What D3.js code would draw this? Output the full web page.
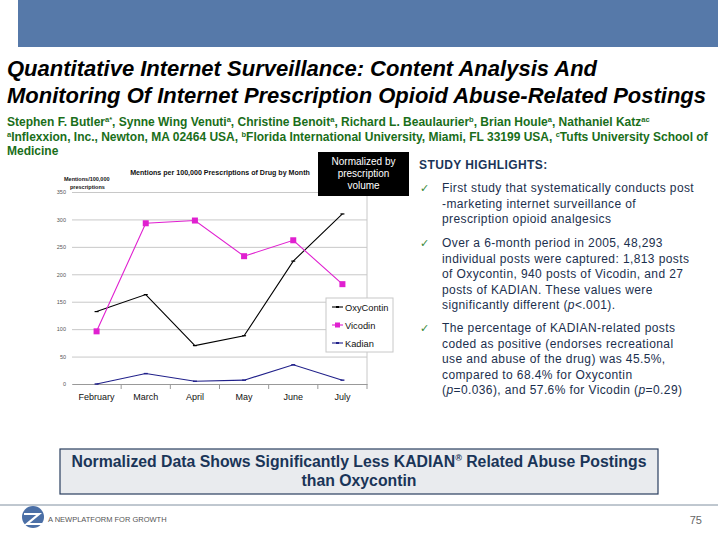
<!DOCTYPE html>
<html>
<head>
<meta charset="utf-8">
<script src="https://cdn.jsdelivr.net/npm/d3@7"></script>
<style>
html,body{margin:0;padding:0;background:#fff;}
svg{display:block;}
</style>
</head>
<body>
<svg id="c" width="720" height="540"></svg>
<script>
// ---- data ----
const months = ["February","March","April","May","June","July"];
const oxycontin = [132,163,70,88,224,310];
const vicodin = [96,293,298,233,262,182];
const kadian = [0,19,5,7,35,7];
const yTicks = [0,50,100,150,200,250,300,350];
const seriesNames = ["OxyContin","Vicodin","Kadian"];
const seriesColors = ["#000000","#e020d0","#20208a"];

const titleLines = ["Quantitative Internet Surveillance: Content Analysis And",
  "Monitoring Of Internet Prescription Opioid Abuse-Related Postings"];
const highlights = [
  ["First study that systematically conducts post","-marketing internet surveillance of","prescription opioid analgesics"],
  ["Over a 6-month period in 2005, 48,293","individual posts were captured: 1,813 posts","of Oxycontin, 940 posts of Vicodin, and 27","posts of KADIAN.  These values were","significantly different (|p|<.001)."],
  ["The percentage of KADIAN-related posts","coded as positive (endorses recreational","use and abuse of the drug) was 45.5%,","compared to 68.4% for Oxycontin","(|p|=0.036), and 57.6% for Vicodin (|p|=0.29)"]
];

const svg = d3.select("#c");

// header bar
svg.append("rect").attr("x",18).attr("y",0).attr("width",700).attr("height",47).attr("fill","#5679a9");

// title
const ttl = svg.append("g").attr("font-family","Liberation Sans, Arial, sans-serif")
  .attr("font-weight","bold").attr("font-style","italic").attr("font-size",22).attr("fill","#000");
ttl.append("text").attr("x",7).attr("y",76).text(titleLines[0]);
ttl.append("text").attr("x",7).attr("y",103).attr("textLength",699).attr("lengthAdjust","spacingAndGlyphs").text(titleLines[1]);

// authors
const auth = svg.append("g").attr("font-family","Liberation Sans Narrow, Arial Narrow, sans-serif")
  .attr("font-weight","bold").attr("font-size",13).attr("fill","#1a6e1a");
function richLine(y, parts){
  const t = auth.append("text").attr("x",7).attr("y",y);
  let up = false;
  parts.forEach(p=>{
    if(p.sup){ t.append("tspan").attr("font-size",7.5).attr("dy",up?0:-4).text(p.sup); up = true; }
    else { t.append("tspan").attr("dy",up?4:0).text(p.t); up = false; }
  });
  return t;
}
const a1 = richLine(126,[{t:"Stephen F. Butler"},{sup:"a*"},{t:", Synne Wing Venuti"},{sup:"a"},{t:", Christine Benoit"},{sup:"a"},
  {t:", Richard L. Beaulaurier"},{sup:"b"},{t:", Brian Houle"},{sup:"a"},{t:",  Nathaniel Katz"},{sup:"ac"}]);
const a2 = richLine(141,[{sup:"a"},{t:"Inflexxion, Inc., Newton, MA 02464 USA, "},{sup:"b"},{t:"Florida International University, Miami, FL 33199 USA, "},{sup:"c"},{t:"Tufts University School of"}]);
const a3 = richLine(155,[{t:"Medicine"}]);
// fit line 2 to the reference width and use the same size for all author lines
const w2 = a2.node().getComputedTextLength();
const fs = 13 * 700 / w2;
auth.attr("font-size", fs);

// ---- chart ----
const plotL = 72, plotR = 367, plotT = 192, plotB = 384;
const x = d3.scaleBand().domain(months).range([plotL, plotR]);
const y = d3.scaleLinear().domain([0,350]).range([plotB, plotT]);
const cx = m => x(m) + x.bandwidth()/2;

const ch = svg.append("g").attr("font-family","Liberation Sans, Arial, sans-serif");

// grid
ch.append("g").attr("transform",`translate(${plotL},0)`)
  .call(d3.axisLeft(y).tickValues(yTicks).tickSize(-(plotR-plotL)).tickPadding(4).tickFormat(d3.format("d")))
  .call(g=>g.select(".domain").remove())
  .call(g=>g.selectAll(".tick line").attr("stroke","#c8c8c8").attr("stroke-width",1))
  .call(g=>g.selectAll(".tick text").attr("font-size",5.5).attr("fill","#555").attr("x",-6));

// right frame line
ch.append("line").attr("x1",plotR).attr("x2",plotR).attr("y1",plotT).attr("y2",plotB).attr("stroke","#c8c8c8");

// x axis
ch.append("g").attr("transform",`translate(0,${plotB})`)
  .call(d3.axisBottom(x).tickSize(0).tickPadding(10))
  .call(g=>g.select(".domain").attr("stroke","#999"))
  .call(g=>g.selectAll(".tick text").attr("font-size",9).attr("fill","#111"));
// boundary ticks
ch.append("g").selectAll("line").data(months.slice(1)).join("line")
  .attr("x1",d=>x(d)).attr("x2",d=>x(d)).attr("y1",plotB).attr("y2",plotB+5).attr("stroke","#999");
ch.append("line").attr("x1",plotR).attr("x2",plotR).attr("y1",plotB).attr("y2",plotB+5).attr("stroke","#999");

// chart titles
ch.append("text").attr("x",220).attr("y",175).attr("text-anchor","middle").attr("font-size",7.1)
  .attr("font-weight","bold").attr("fill","#111").text("Mentions per 100,000 Prescriptions of Drug by Month");
ch.append("text").attr("x",64).attr("y",181).attr("font-size",5.5).attr("font-weight","bold").attr("fill","#111").text("Mentions/100,000");
ch.append("text").attr("x",70).attr("y",189).attr("font-size",5.5).attr("font-weight","bold").attr("fill","#111").text("prescriptions");

// lines
const allSeries = [oxycontin, vicodin, kadian];
const line = d3.line().x((d,i)=>cx(months[i])).y(d=>y(d));
allSeries.forEach((s,k)=>{
  ch.append("path").datum(s).attr("d",line).attr("fill","none")
    .attr("stroke",seriesColors[k]).attr("stroke-width",1.1);
});
// markers
ch.append("g").selectAll("rect").data(vicodin).join("rect")
  .attr("x",(d,i)=>cx(months[i])-3).attr("y",d=>y(d)-3).attr("width",6).attr("height",6).attr("fill",seriesColors[1]);
ch.append("g").selectAll("path").data(oxycontin).join("path")
  .attr("d",(d,i)=>`M${cx(months[i])-2},${y(d)}h4`).attr("stroke","#000").attr("stroke-width",1.2);
ch.append("g").selectAll("path").data(kadian).join("path")
  .attr("d",(d,i)=>`M${cx(months[i])-2},${y(d)}h4`).attr("stroke",seriesColors[2]).attr("stroke-width",1.4);

// legend
const lg = ch.append("g");
lg.append("rect").attr("x",326).attr("y",298).attr("width",67).attr("height",54).attr("fill","#fff").attr("stroke","#c8c8c8");
seriesNames.forEach((n,k)=>{
  const yy = 307 + k*18;
  lg.append("line").attr("x1",332).attr("x2",343).attr("y1",yy).attr("y2",yy).attr("stroke",seriesColors[k]).attr("stroke-width",1.1);
  if(k===1) lg.append("rect").attr("x",335).attr("y",yy-2.5).attr("width",5).attr("height",5).attr("fill",seriesColors[1]);
  else lg.append("line").attr("x1",336).attr("x2",339).attr("y1",yy).attr("y2",yy).attr("stroke",seriesColors[k]).attr("stroke-width",2);
  lg.append("text").attr("x",345).attr("y",yy+3.5).attr("font-size",9.3).attr("fill","#111").text(n);
});

// Normalized box
svg.append("rect").attr("x",318).attr("y",152).attr("width",91).attr("height",44).attr("fill","#000");
const nb = svg.append("g").attr("font-family","Liberation Sans, Arial, sans-serif").attr("font-size",10)
  .attr("fill","#fff").attr("text-anchor","middle");
["Normalized by","prescription","volume"].forEach((t,i)=>nb.append("text").attr("x",363.5).attr("y",165+i*12).text(t));

// highlights
const hl = svg.append("g").attr("font-family","Liberation Sans, Arial, sans-serif").attr("fill","#1b2f4e");
hl.append("text").attr("x",419).attr("y",169).attr("font-size",12).attr("letter-spacing",0.4).attr("font-weight","bold").attr("fill","#1a3558").text("STUDY HIGHLIGHTS:");
const starts = [192, 247, 332];
highlights.forEach((lines,b)=>{
  hl.append("text").attr("x",420).attr("y",starts[b]).attr("font-family","DejaVu Sans, sans-serif")
    .attr("font-size",11).attr("fill","#3a8a3a").text("\u2713");
  lines.forEach((ln,i)=>{
    const t = hl.append("text").attr("x",442).attr("y",starts[b]+i*15.5).attr("font-size",12).attr("letter-spacing",0.4);
    ln.split("|").forEach((part,j)=>{
      const sp = t.append("tspan").text(part);
      if(j%2===1) sp.attr("font-style","italic");
    });
  });
});

// conclusion box
svg.append("rect").attr("x",60).attr("y",449).attr("width",598).attr("height",45)
  .attr("fill","#e9ebee").attr("stroke","#2a3f5f").attr("stroke-width",1.2);
const cb = svg.append("text").attr("x",359).attr("y",467).attr("text-anchor","middle")
  .attr("font-family","Liberation Sans, Arial, sans-serif").attr("font-weight","bold").attr("font-size",15.8).attr("fill","#1a3558");
cb.append("tspan").text("Normalized Data Shows Significantly Less KADIAN");
cb.append("tspan").attr("font-size",9).attr("dy",-6).text("®");
cb.append("tspan").attr("dy",6).text(" Related Abuse Postings");
svg.append("text").attr("x",359).attr("y",486).attr("text-anchor","middle")
  .attr("font-family","Liberation Sans, Arial, sans-serif").attr("font-weight","bold").attr("font-size",15.8).attr("fill","#1a3558").text("than Oxycontin");

// footer
svg.append("line").attr("x1",0).attr("x2",718).attr("y1",505).attr("y2",505).attr("stroke","#8090a0").attr("stroke-width",1);
const logo = svg.append("g").attr("transform","translate(33,517)");
logo.append("circle").attr("r",11).attr("fill","#4b6fa6");
logo.append("path").attr("d","M-9,-3 L6,-3 L-6,7 L9,7").attr("fill","none").attr("stroke","#fff").attr("stroke-width",2.2);
svg.append("text").attr("x",48).attr("y",522).attr("font-family","Liberation Sans, Arial, sans-serif").attr("font-size",7.5)
  .attr("fill","#555").text("A NEWPLATFORM FOR GROWTH");
svg.append("text").attr("x",702).attr("y",524).attr("text-anchor","end").attr("font-family","Liberation Sans, Arial, sans-serif")
  .attr("font-size",11).attr("fill","#666").text("75");
</script>
</body>
</html>
